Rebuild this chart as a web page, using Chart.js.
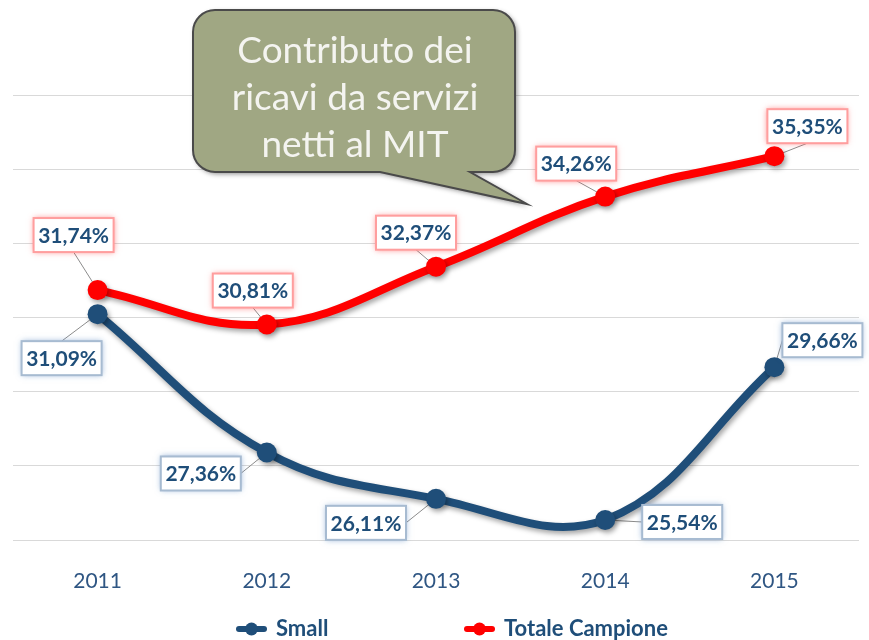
<!DOCTYPE html>
<html><head><meta charset="utf-8">
<script src="https://cdn.jsdelivr.net/npm/chart.js@4.4.0/dist/chart.umd.min.js"></script>
<style>html,body{margin:0;padding:0;background:#fff}#wrap{width:869px;height:640px}</style>
</head><body><div id="wrap"><canvas id="c" width="869" height="640"></canvas></div>
<script>
const categories = ['2011', '2012', '2013', '2014', '2015'];
const smallValues = [31.09, 27.36, 26.11, 25.54, 29.66];
const totaleValues = [31.74, 30.81, 32.37, 34.26, 35.35];
const seriesNames = ['Small', 'Totale Campione'];
const yMin = 25, yMax = 37, yStep = 2;
const calloutLines = ['Contributo dei', 'ricavi da servizi', 'netti al MIT'];

// label layout (pixel offsets from each point)
const smallLabelOffsets = [[-36, 44], [-66, 21], [-70, 24], [77, 2], [48, -27]];
const totaleLabelOffsets = [[-24, -55], [-14, -34], [-20, -34], [-29, -33], [33, -30]];

const BLUE = '#1F4E79';
const RED = '#FF0000';
const FONT = 'Lato, "Open Sans", sans-serif';

function fmt(v) { return v.toFixed(2).replace('.', ',') + '%'; }

function labelBoxes(chart) {
  const out = [];
  chart.data.datasets.forEach((ds, di) => {
    const meta = chart.getDatasetMeta(di);
    const offs = di === 0 ? smallLabelOffsets : totaleLabelOffsets;
    meta.data.forEach((pt, i) => {
      const cx = pt.x + offs[i][0], cy = pt.y + offs[i][1];
      const w = 80, h = 34;
      const box = { x0: cx - w / 2, x1: cx + w / 2, y0: cy - h / 2, y1: cy + h / 2, cx, cy };
      let ax, ay;
      if (pt.x < box.x0) { ax = box.x0; ay = cy; }
      else if (pt.x > box.x1) { ax = box.x1; ay = cy; }
      else if (pt.y > box.y1) { ax = cx; ay = box.y1; }
      else { ax = cx; ay = box.y0; }
      out.push({ di, i, pt, box, ax, ay, text: fmt(ds.data[i]) });
    });
  });
  return out;
}

const shadowPlugin = {
  id: 'lineShadow',
  beforeDatasetDraw(chart) {
    const c = chart.ctx; c.save();
    c.shadowColor = 'rgba(0,0,0,0.35)'; c.shadowBlur = 5; c.shadowOffsetX = 2; c.shadowOffsetY = 3;
  },
  afterDatasetDraw(chart) { chart.ctx.restore(); }
};

const labelPlugin = {
  id: 'dataLabels',
  beforeDatasetsDraw(chart) {
    const c = chart.ctx;
    c.save();
    c.strokeStyle = '#8C8C8C'; c.lineWidth = 1;
    labelBoxes(chart).forEach(l => {
      c.beginPath(); c.moveTo(l.ax, l.ay); c.lineTo(l.pt.x, l.pt.y); c.stroke();
    });
    c.restore();
  },
  afterDatasetsDraw(chart) {
    const c = chart.ctx;
    labelBoxes(chart).forEach(l => {
      const b = l.box;
      c.save();
      c.shadowColor = l.di === 0 ? 'rgba(79,129,189,0.6)' : 'rgba(255,60,60,0.6)';
      c.shadowBlur = 6;
      c.fillStyle = '#FFFFFF';
      c.fillRect(b.x0, b.y0, b.x1 - b.x0, b.y1 - b.y0);
      c.shadowBlur = 0;
      c.strokeStyle = l.di === 0 ? '#A7BBD1' : '#FF9E9E';
      c.lineWidth = 2;
      c.strokeRect(b.x0, b.y0, b.x1 - b.x0, b.y1 - b.y0);
      c.fillStyle = BLUE;
      c.font = 'bold 21px ' + FONT;
      c.textAlign = 'center'; c.textBaseline = 'middle';
      c.fillText(l.text, b.cx, b.cy + 1);
      c.restore();
    });
  }
};

const decorPlugin = {
  id: 'decor',
  afterDraw(chart) {
    const c = chart.ctx;
    // legend
    c.save();
    c.font = 'bold 22px ' + FONT;
    c.textBaseline = 'middle'; c.textAlign = 'left';
    const ly = 629;
    const starts = [236, 464];
    chart.data.datasets.forEach((ds, di) => {
      const x = starts[di];
      const col = ds.borderColor;
      c.strokeStyle = col; c.fillStyle = col; c.lineWidth = 6; c.lineCap = 'round';
      c.beginPath(); c.moveTo(x + 3, ly); c.lineTo(x + 28, ly); c.stroke();
      c.beginPath(); c.arc(x + 15.5, ly, 6.5, 0, Math.PI * 2); c.fill();
      c.fillStyle = BLUE;
      c.fillText(ds.label, x + 40, ly);
    });
    c.restore();

    // callout bubble
    c.save();
    const x0 = 193, y0 = 10, x1 = 515, y1 = 172, r = 22;
    c.beginPath();
    c.moveTo(x0 + r, y0);
    c.lineTo(x1 - r, y0);
    c.arcTo(x1, y0, x1, y0 + r, r);
    c.lineTo(x1, y1 - r);
    c.arcTo(x1, y1, x1 - r, y1, r);
    c.lineTo(470, y1);
    c.lineTo(527, 204);
    c.lineTo(380, y1);
    c.lineTo(x0 + r, y1);
    c.arcTo(x0, y1, x0, y1 - r, r);
    c.lineTo(x0, y0 + r);
    c.arcTo(x0, y0, x0 + r, y0, r);
    c.closePath();
    c.shadowColor = 'rgba(0,0,0,0.45)'; c.shadowBlur = 5; c.shadowOffsetX = 2; c.shadowOffsetY = 2;
    c.fillStyle = '#A0A783';
    c.fill();
    c.shadowColor = 'transparent';
    c.strokeStyle = '#4A4A4A'; c.lineWidth = 2;
    c.stroke();
    c.fillStyle = '#F4F4F0';
    c.font = '37px ' + FONT;
    c.textAlign = 'center'; c.textBaseline = 'alphabetic';
    calloutLines.forEach((t, k) => c.fillText(t, 355, 63 + k * 47));
    c.restore();
  }
};

new Chart(document.getElementById('c'), {
  type: 'line',
  data: {
    labels: categories,
    datasets: [
      { label: seriesNames[0], data: smallValues, borderColor: BLUE, backgroundColor: BLUE,
        pointBackgroundColor: BLUE, pointBorderColor: BLUE, borderWidth: 8, pointRadius: 10,
        pointBorderWidth: 0, tension: 0.4, fill: false },
      { label: seriesNames[1], data: totaleValues, borderColor: RED, backgroundColor: RED,
        pointBackgroundColor: RED, pointBorderColor: RED, borderWidth: 8, pointRadius: 10,
        pointBorderWidth: 0, tension: 0.4, fill: false }
    ]
  },
  options: {
    responsive: false,
    animation: false,
    layout: { padding: { left: 13, right: 7, top: 95, bottom: 0 } },
    plugins: { legend: { display: false }, tooltip: { enabled: false } },
    scales: {
      x: {
        offset: true,
        grid: { display: false },
        border: { display: false },
        ticks: { color: '#2F5683', font: { family: FONT, size: 21 }, padding: 21 },
        afterFit(s) { s.height = 100; }
      },
      y: {
        min: yMin, max: yMax,
        ticks: { stepSize: yStep, display: false },
        grid: { color: '#D9D9D9', drawTicks: false, lineWidth: 1 },
        border: { display: false },
        afterFit(s) { s.width = 0; }
      }
    }
  },
  plugins: [shadowPlugin, labelPlugin, decorPlugin]
});
</script></body></html>
